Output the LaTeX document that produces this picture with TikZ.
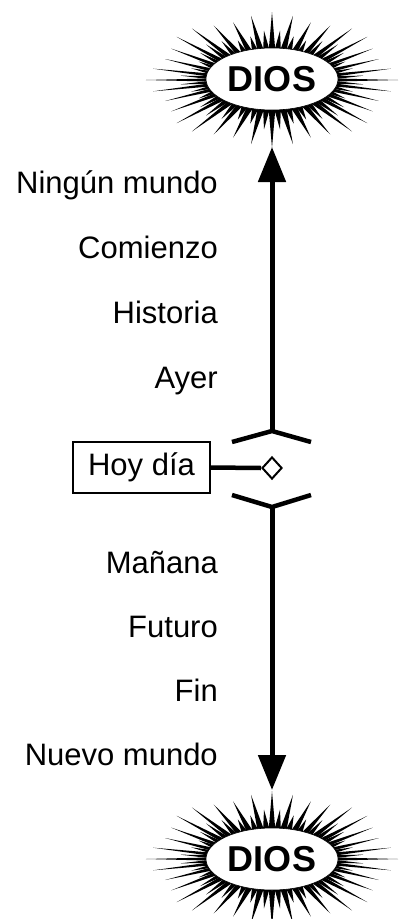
\documentclass[tikz,border=0pt]{standalone}
\usepackage{fontspec}
\setmainfont{Liberation Sans}
\usetikzlibrary{arrows.meta,shapes.geometric}

\begin{document}
\begin{tikzpicture}[x=1pt,y=-1pt,
  etiqueta/.style={anchor=base east,inner sep=0pt,font=\fontsize{31}{36}\selectfont},
  dios/.style={ellipse,fill=white,draw,line width=0.6pt,inner sep=0pt,
    minimum width=132pt,minimum height=62pt,text height=25.8pt,text depth=0pt,
    font=\fontsize{36}{40}\selectfont\bfseries},
  flecha/.style={line width=5pt,-{Triangle[length=35pt,width=27pt]}},
  corchete/.style={line width=4.5pt,miter limit=20}]

\useasboundingbox (0,0) rectangle (400,919);

% rayos de arriba
\begin{scope}[shift={(272,80)}]
  \foreach \a in {0,5,...,355} {
    \pgfmathsetmacro\lrg{0.82+0.13*cos(36*\a)+0.05*cos(8*\a)}
    \pgfmathsetmacro\pax{64*cos(\a-3)}
    \pgfmathsetmacro\pay{29*sin(\a-3)}
    \pgfmathsetmacro\pbx{64*cos(\a+3)}
    \pgfmathsetmacro\pby{29*sin(\a+3)}
    \pgfmathsetmacro\ptx{\lrg*126*cos(\a)}
    \pgfmathsetmacro\pty{\lrg*68*sin(\a)}
    \fill (\pax,\pay) -- (\ptx,\pty) -- (\pbx,\pby) -- cycle;
  }
\end{scope}

% rayos de abajo
\begin{scope}[shift={(272,859)}]
  \foreach \a in {0,5,...,355} {
    \pgfmathsetmacro\lrg{0.82+0.13*cos(36*\a)+0.05*cos(8*\a)}
    \pgfmathsetmacro\pax{64*cos(\a-3)}
    \pgfmathsetmacro\pay{29*sin(\a-3)}
    \pgfmathsetmacro\pbx{64*cos(\a+3)}
    \pgfmathsetmacro\pby{29*sin(\a+3)}
    \pgfmathsetmacro\ptx{\lrg*126*cos(\a)}
    \pgfmathsetmacro\pty{\lrg*68*sin(\a)}
    \fill (\pax,\pay) -- (\ptx,\pty) -- (\pbx,\pby) -- cycle;
  }
\end{scope}

\node[dios] (diosArriba) at (272,79) {DIOS};
\node[dios] (diosAbajo) at (272,859) {DIOS};

\coordinate (puntaArriba) at (272,147);
\coordinate (puntaAbajo) at (272,790);
\coordinate (ayerC) at (272,431);
\coordinate (mananaC) at (272,507);

\draw[flecha] (ayerC) -- (puntaArriba);
\draw[flecha] (mananaC) -- (puntaAbajo);

\draw[corchete] (232,442) -- (ayerC) -- (311,442);
\draw[corchete] (232,495) -- (mananaC) -- (311,495);

\node[etiqueta] (ningun) at (218,193) {Ningún mundo};
\node[etiqueta] (comienzo) at (218,258) {Comienzo};
\node[etiqueta] (historia) at (218,323) {Historia};
\node[etiqueta] (ayer) at (218,388) {Ayer};

\node[etiqueta] (manana) at (218,573) {Mañana};
\node[etiqueta] (futuro) at (218,637) {Futuro};
\node[etiqueta] (fin) at (218,701) {Fin};
\node[etiqueta] (nuevo) at (218,765) {Nuevo mundo};

\node[draw,line width=2pt,minimum width=137pt,minimum height=51pt,inner sep=0pt,
  text height=22pt,text depth=7pt,font=\fontsize{31}{36}\selectfont] (hoy) at (141.5,467.5) {Hoy día};
\node[diamond,draw,fill=white,line width=2pt,inner sep=0pt,
  minimum width=20pt,minimum height=22pt] (rombo) at (272,468) {};
\draw[line width=4.5pt] (hoy.east) -- (rombo.west);

\end{tikzpicture}
\end{document}
